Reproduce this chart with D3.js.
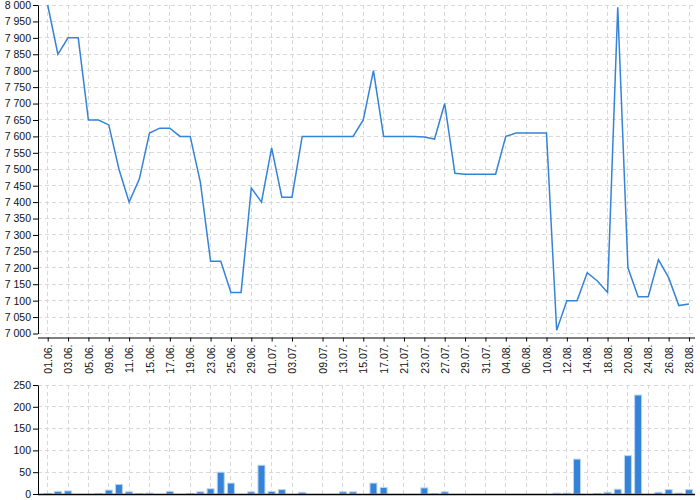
<!DOCTYPE html>
<html>
<head>
<meta charset="utf-8">
<script src="https://cdn.jsdelivr.net/npm/d3@7"></script>
<style>
  body { margin: 0; background: #fff; }
  svg { display: block; font-family: "DejaVu Sans", sans-serif; }
  .axis text { font-size: 10.5px; fill: #111; }
  .axis path, .axis line { stroke: #000; }
</style>
</head>
<body>
<svg id="chart" width="700" height="500"></svg>
<script>
// trading days, 01.06 - 28.08
var dates = ["01.06.","02.06.","03.06.","04.06.","05.06.","08.06.","09.06.","10.06.","11.06.","12.06.",
    "15.06.","16.06.","17.06.","18.06.","19.06.","22.06.","23.06.","24.06.","25.06.","26.06.",
    "29.06.","30.06.","01.07.","02.07.","03.07.","06.07.","07.07.","09.07.","10.07.","13.07.",
    "14.07.","15.07.","16.07.","17.07.","20.07.","21.07.","22.07.","23.07.","24.07.","27.07.",
    "28.07.","29.07.","30.07.","31.07.","03.08.","04.08.","05.08.","06.08.","07.08.","10.08.",
    "11.08.","12.08.","13.08.","14.08.","17.08.","18.08.","19.08.","20.08.","21.08.","24.08.",
    "25.08.","26.08.","27.08.","28.08."];

var prices = [8000,7850,7900,7900,7650,7650,7635,7500,7400,7470,
    7610,7625,7625,7600,7600,7460,7220,7220,7125,7125,
    7443,7400,7565,7415,7415,7600,7600,7600,7600,7600,
    7600,7650,7800,7600,7600,7600,7600,7598,7592,7700,
    7488,7485,7485,7485,7485,7600,7610,7610,7610,7610,
    7010,7100,7100,7185,7160,7125,7993,7200,7112,7112,
    7225,7170,7085,7090];

var volumes = [1,6,7,0,0,1,9,22,5,1,
    2,0,6,0,1,5,12,50,25,0,
    5,66,6,10,0,4,0,0,0,5,
    5,0,25,15,0,0,0,14,1,5,
    0,0,0,0,0,0,0,0,0,0,
    2,2,80,0,1,4,11,88,227,0,
    4,10,2,10];

var tickDates = ["01.06.","03.06.","05.06.","09.06.","11.06.","15.06.","17.06.","19.06.","23.06.","25.06.",
    "29.06.","01.07.","03.07.","09.07.","13.07.","15.07.","17.07.","21.07.","23.07.","27.07.",
    "29.07.","31.07.","04.08.","06.08.","10.08.","12.08.","14.08.","18.08.","20.08.","24.08.",
    "26.08.","28.08."];

var priceTicks = d3.range(7000, 8001, 50);
var volumeTicks = [0, 50, 100, 150, 200, 250];

var left = 38, right = 695;
var blue = "rgb(52,131,216)";

var loc = d3.formatLocale({decimal: ",", thousands: "\u00a0", grouping: [3], currency: ["", ""]});
var fmt = loc.format(",d");

var svg = d3.select("#chart");

var x = d3.scalePoint().domain(dates).range([47.7, 689]);

var yPrice = d3.scaleLinear().domain([7000, 8000]).range([333.5, 5]);
var yVol = d3.scaleLinear().domain([0, 250]).range([494, 385]);

function grid(g, y, ticks) {
    g.selectAll(".hgrid").data(ticks).enter().append("line")
        .attr("class", "hgrid")
        .attr("x1", left).attr("x2", right)
        .attr("y1", function(d){ return y(d); })
        .attr("y2", function(d){ return y(d); });
    g.selectAll(".vgrid").data(tickDates).enter().append("line")
        .attr("class", "vgrid")
        .attr("x1", function(d){ return x(d); })
        .attr("x2", function(d){ return x(d); })
        .attr("y1", y.range()[1]).attr("y2", y.range()[0]);
    g.selectAll("line")
        .attr("stroke", "#d8d8d8")
        .attr("stroke-width", 1)
        .attr("stroke-dasharray", "4,3")
        .attr("shape-rendering", "crispEdges");
}

// ---- price chart
var priceG = svg.append("g");
grid(priceG.append("g"), yPrice, priceTicks);

priceG.append("g").attr("class", "axis")
    .attr("transform", "translate(" + left + ",0)")
    .call(d3.axisLeft(yPrice).tickValues(priceTicks).tickFormat(fmt).tickSize(5).tickPadding(2).tickSizeOuter(0));

var xAxis = priceG.append("g").attr("class", "axis")
    .attr("transform", "translate(0,337.5)")
    .call(d3.axisBottom(x).tickValues(tickDates).tickSize(4).tickSizeOuter(0));
xAxis.select(".domain").attr("d", "M" + left + ",0.5H" + right);
xAxis.selectAll("text")
    .attr("transform", "rotate(-90)")
    .attr("text-anchor", "end")
    .attr("x", -7)
    .attr("y", 0)
    .attr("dy", "0.35em");

var line = d3.line()
    .x(function(d, i){ return x(dates[i]); })
    .y(function(d){ return yPrice(d); });

priceG.append("path")
    .datum(prices)
    .attr("fill", "none")
    .attr("stroke", blue)
    .attr("stroke-width", 1.5)
    .attr("stroke-linejoin", "miter")
    .attr("d", line);

// ---- volume chart
var volG = svg.append("g");
grid(volG.append("g"), yVol, volumeTicks);

var barW = 7;
volG.selectAll(".bar")
    .data(volumes.map(function(v, i){ return {d: dates[i], v: v}; }).filter(function(o){ return o.v > 0; }))
    .enter().append("rect")
    .attr("class", "bar")
    .attr("x", function(o){ return x(o.d) - barW / 2; })
    .attr("y", function(o){ return yVol(o.v); })
    .attr("width", barW)
    .attr("height", function(o){ return yVol(0) - yVol(o.v); })
    .attr("fill", blue)
    .attr("stroke", "rgb(185,213,242)")
    .attr("stroke-width", 1);

volG.append("g").attr("class", "axis")
    .attr("transform", "translate(" + left + ",0)")
    .call(d3.axisLeft(yVol).tickValues(volumeTicks).tickSize(5).tickPadding(2).tickSizeOuter(0));

volG.append("line")
    .attr("x1", left).attr("x2", right)
    .attr("y1", 494.5).attr("y2", 494.5)
    .attr("stroke", "#000")
    .attr("stroke-width", 1.5);
</script>
</body>
</html>
